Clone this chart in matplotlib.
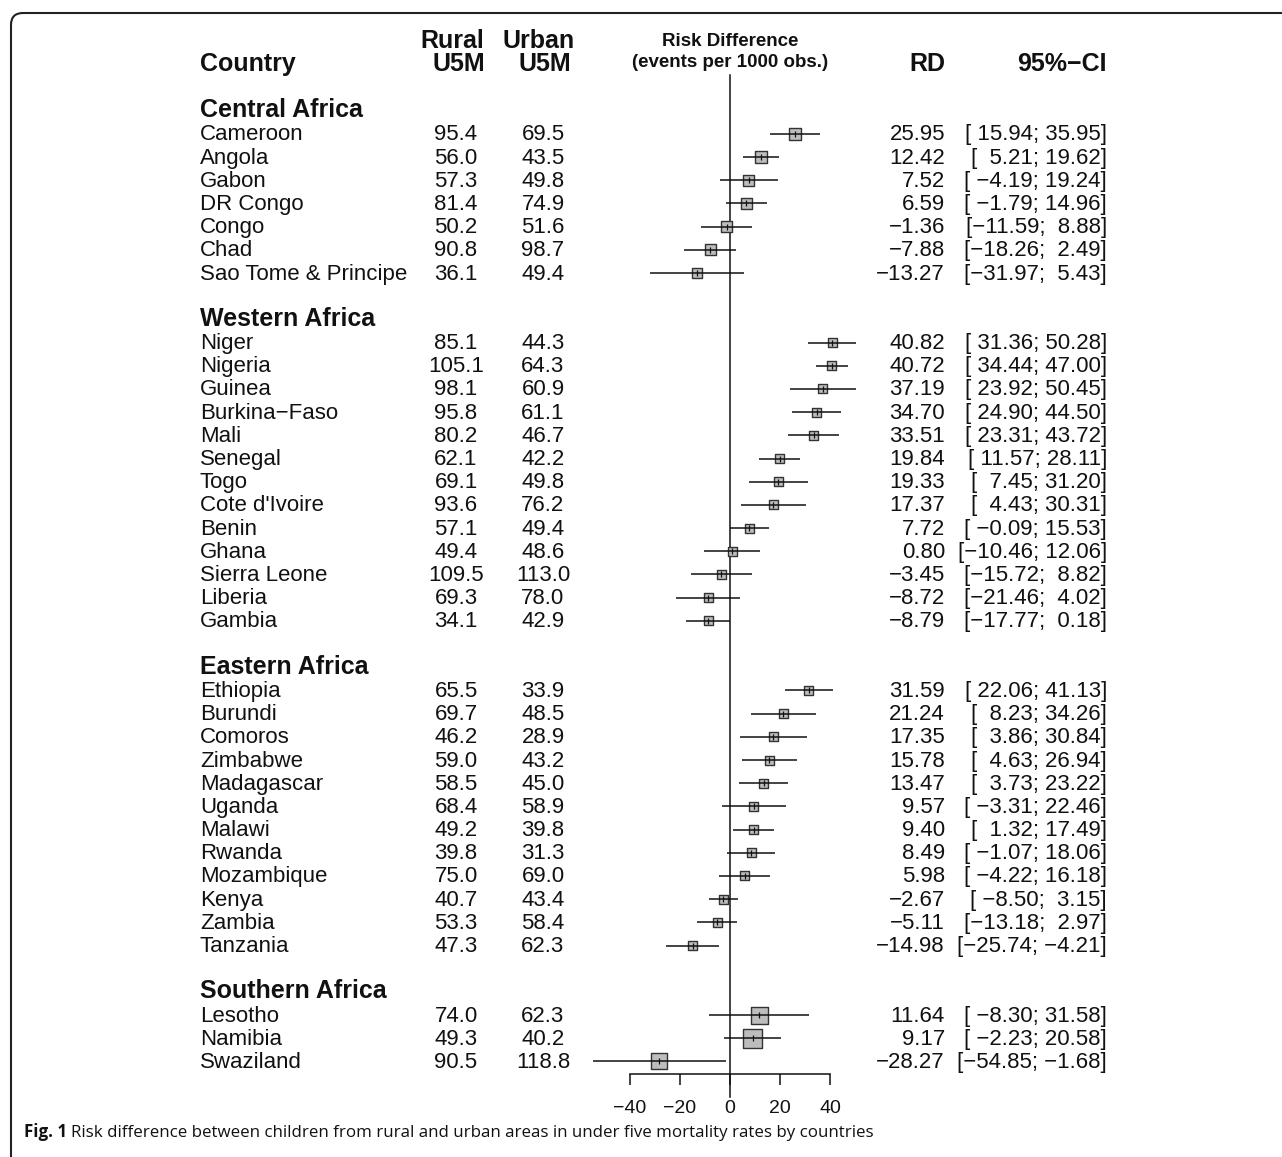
import matplotlib
matplotlib.use("Agg")
import matplotlib.pyplot as plt
from matplotlib.patches import FancyBboxPatch

plt.rcParams['font.family'] = ['Liberation Sans', 'DejaVu Sans']

# ---- data ----
regions = ["Central Africa", "Western Africa", "Eastern Africa", "Southern Africa"]
region_sizes = [7, 13, 12, 3]

countries = ["Cameroon", "Angola", "Gabon", "DR Congo", "Congo", "Chad", "Sao Tome & Principe",
             "Niger", "Nigeria", "Guinea", "Burkina\u2212Faso", "Mali", "Senegal", "Togo",
             "Cote d'Ivoire", "Benin", "Ghana", "Sierra Leone", "Liberia", "Gambia",
             "Ethiopia", "Burundi", "Comoros", "Zimbabwe", "Madagascar", "Uganda", "Malawi",
             "Rwanda", "Mozambique", "Kenya", "Zambia", "Tanzania",
             "Lesotho", "Namibia", "Swaziland"]
rural = [95.4, 56.0, 57.3, 81.4, 50.2, 90.8, 36.1,
         85.1, 105.1, 98.1, 95.8, 80.2, 62.1, 69.1, 93.6, 57.1, 49.4, 109.5, 69.3, 34.1,
         65.5, 69.7, 46.2, 59.0, 58.5, 68.4, 49.2, 39.8, 75.0, 40.7, 53.3, 47.3,
         74.0, 49.3, 90.5]
urban = [69.5, 43.5, 49.8, 74.9, 51.6, 98.7, 49.4,
         44.3, 64.3, 60.9, 61.1, 46.7, 42.2, 49.8, 76.2, 49.4, 48.6, 113.0, 78.0, 42.9,
         33.9, 48.5, 28.9, 43.2, 45.0, 58.9, 39.8, 31.3, 69.0, 43.4, 58.4, 62.3,
         62.3, 40.2, 118.8]
rd = [25.95, 12.42, 7.52, 6.59, -1.36, -7.88, -13.27,
      40.82, 40.72, 37.19, 34.70, 33.51, 19.84, 19.33, 17.37, 7.72, 0.80, -3.45, -8.72, -8.79,
      31.59, 21.24, 17.35, 15.78, 13.47, 9.57, 9.40, 8.49, 5.98, -2.67, -5.11, -14.98,
      11.64, 9.17, -28.27]
ci_lo = [15.94, 5.21, -4.19, -1.79, -11.59, -18.26, -31.97,
         31.36, 34.44, 23.92, 24.90, 23.31, 11.57, 7.45, 4.43, -0.09, -10.46, -15.72, -21.46, -17.77,
         22.06, 8.23, 3.86, 4.63, 3.73, -3.31, 1.32, -1.07, -4.22, -8.50, -13.18, -25.74,
         -8.30, -2.23, -54.85]
ci_hi = [35.95, 19.62, 19.24, 14.96, 8.88, 2.49, 5.43,
         50.28, 47.00, 50.45, 44.50, 43.72, 28.11, 31.20, 30.31, 15.53, 12.06, 8.82, 4.02, 0.18,
         41.13, 34.26, 30.84, 26.94, 23.22, 22.46, 17.49, 18.06, 16.18, 3.15, 2.97, -4.21,
         31.58, 20.58, -1.68]
# relative study weight (drives square size)
weight = [1.44, 1.44, 1.21, 1.21, 1.21, 1.21, 1.0,
          0.81, 0.81, 0.81, 0.81, 0.81, 0.81, 0.81, 0.81, 0.81, 0.81, 0.81, 0.81, 0.81,
          0.81, 0.81, 0.81, 0.81, 0.81, 0.81, 0.81, 0.81, 0.81, 0.81, 0.81, 0.81,
          2.89, 3.61, 2.56]

# ---- layout (pixels) ----
W, H = 1282, 1157
X0, XS = 730, 2.5      # pixel of RD = 0 and pixels per unit
Y0, YS = 117.2, 23.19  # baseline pixel of row 0 and pixels per row
MID = 6.5 / YS         # squares sit a little above the text baseline
TXT = '#111111'


def px_x(px):
    return (px - X0) / XS


def px_y(py):
    return (py - Y0) / YS


def fmt(v, w=0):
    return f"{v:{w}.2f}".replace("-", "\u2212")


fig = plt.figure(figsize=(W / 100, H / 100), dpi=100)
ax = fig.add_axes([0, 0, 1, 1])
ax.set_xlim(px_x(0), px_x(W))
ax.set_ylim(px_y(H), px_y(0))
ax.patch.set_visible(False)

rows = []
header_rows = []
r = 0
for n in region_sizes:
    header_rows.append(r)
    rows += list(range(r + 1, r + 1 + n))
    r += n + 2

# column headers
hb = dict(fontsize=18, fontweight='bold', color=TXT, va='baseline')
ax.text(px_x(200), -2, "Country", ha='left', **hb)
ax.text(px_x(452), -3, "Rural", ha='center', **hb)
ax.text(px_x(459), -2, "U5M", ha='center', **hb)
ax.text(px_x(539), -3, "Urban", ha='center', **hb)
ax.text(px_x(545), -2, "U5M", ha='center', **hb)
ax.text(px_x(945), -2, "RD", ha='right', **hb)
ax.text(px_x(1107), -2, "95%\u2212CI", ha='right', **hb)
ax.text(0, px_y(46), "Risk Difference", ha='center', fontsize=13.5,
        fontweight='bold', color=TXT, va='baseline')
ax.text(0, px_y(67), "(events per 1000 obs.)", ha='center', fontsize=13.5,
        fontweight='bold', color=TXT, va='baseline')

for name, hr in zip(regions, header_rows):
    ax.text(px_x(200), hr, name, ha='left', **hb)

body = dict(fontsize=16, color=TXT, va='baseline')
for i, row in enumerate(rows):
    ax.text(px_x(200), row, countries[i], ha='left', **body)
    ax.text(px_x(456), row, f"{rural[i]:.1f}", ha='center', **body)
    ax.text(px_x(543), row, f"{urban[i]:.1f}", ha='center', **body)
    ax.text(px_x(945), row, fmt(rd[i]), ha='right', **body)
    ax.text(px_x(1107), row, "[" + fmt(ci_lo[i], 6) + ";" + fmt(ci_hi[i], 6) + "]",
            ha='right', **body)

# forest part
ymark = [row - MID for row in rows]
ax.plot([0, 0], [px_y(75), px_y(1097)], color='#111111', lw=1.1, zorder=1)
sizes = [(10 * w ** 0.5 * 0.72) ** 2 for w in weight]
ax.scatter(rd, ymark, s=sizes, marker='s', facecolor='#bdbdbd',
           edgecolor='#333333', linewidth=1.0, zorder=2)
ax.hlines(ymark, ci_lo, ci_hi, color='#111111', lw=1.1, zorder=3)
ax.plot(rd, ymark, ls='none', marker='|', ms=5, mew=0.9, color='#111111', zorder=4)

for s in ['left', 'right', 'top']:
    ax.spines[s].set_visible(False)
ax.spines['bottom'].set_position(('data', px_y(1074)))
ax.spines['bottom'].set_bounds(-40, 40)
ax.spines['bottom'].set_linewidth(1.1)
ax.spines['bottom'].set_color('#111111')
ax.set_xticks([-40, -20, 0, 20, 40])
ax.tick_params(axis='x', direction='out', length=8, width=1.1, labelsize=14,
               pad=11, color='#111111', labelcolor=TXT)
ax.tick_params(left=False, labelleft=False)

# frame with rounded top-left corner
frame = FancyBboxPatch((0.11, -0.5), 14.0, (H - 13) / 100 + 0.5,
                       boxstyle="round,pad=0,rounding_size=0.12",
                       transform=fig.dpi_scale_trans, fill=False,
                       lw=1.5, ec='#222222')
fig.add_artist(frame)

# caption
cap_y = 1 - 1137 / H
t1 = fig.text(24 / W, cap_y, "Fig. 1", fontfamily='Open Sans', fontweight='bold',
              fontsize=12.2, va='baseline', color=TXT)
fig.canvas.draw()
bb = t1.get_window_extent()
fig.text((bb.x1 + 4) / W, cap_y,
         "Risk difference between children from rural and urban areas in under five mortality rates by countries",
         fontfamily='Open Sans', fontsize=12.2, va='baseline', color=TXT)

fig.savefig("out.png", dpi=100)
